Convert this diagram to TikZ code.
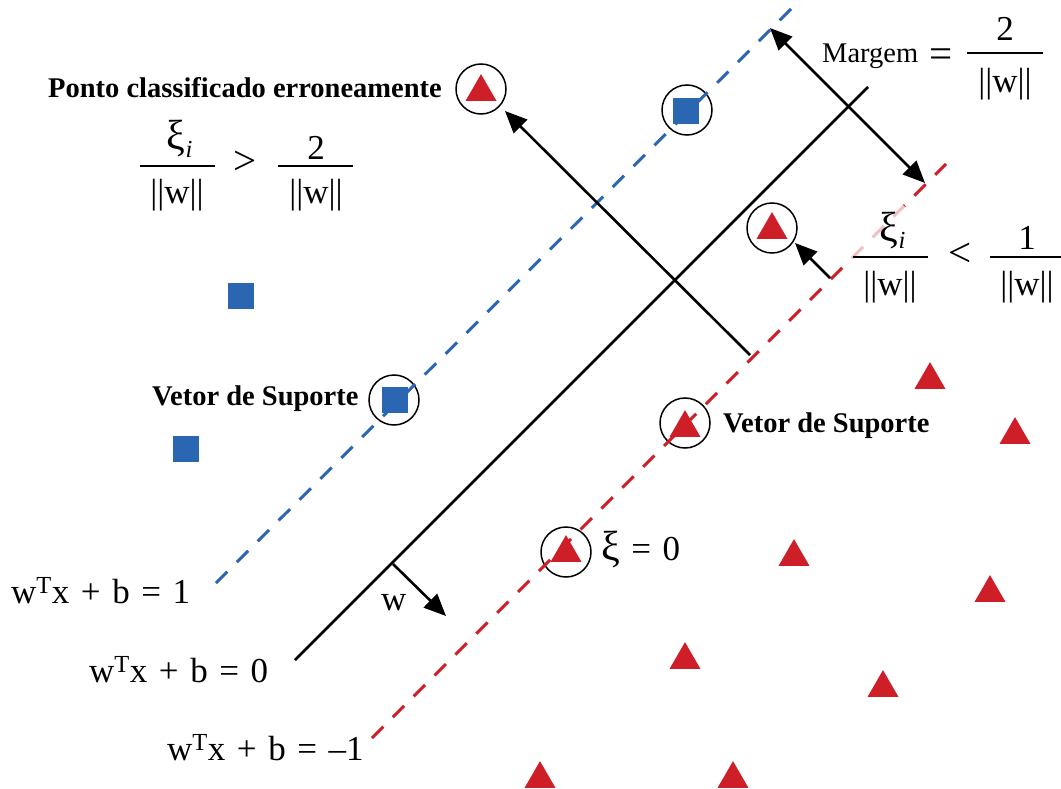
\documentclass[tikz,border=0pt]{standalone}
\usepackage{fontspec}
\setmainfont{Liberation Serif}
\usetikzlibrary{arrows.meta,shapes.geometric}
\definecolor{sblue}{HTML}{2A66B1}
\definecolor{sred}{HTML}{CE1F28}
\newcommand\eqsp{\hspace{0.33em}}
\begin{document}
\begin{tikzpicture}[x=1pt,y=-1pt,
  tri/.style={regular polygon, regular polygon sides=3, fill=sred, inner sep=0pt, minimum size=35.8pt},
  sq/.style={rectangle, fill=sblue, inner sep=0pt, minimum size=26pt},
  ring/.style={circle, draw, line width=1.5pt, inner sep=0pt, minimum size=50pt},
  hyper/.style={line width=2.6pt},
  bluedash/.style={sblue, line width=3pt, dash pattern=on 16pt off 13.5pt},
  reddash/.style={sred, line width=3pt, dash pattern=on 16pt off 13.5pt},
  arr/.style={line width=2.6pt, -{Triangle[length=22pt,width=19pt]}},
  darr/.style={line width=2.6pt, {Triangle[length=22pt,width=19pt]}-{Triangle[length=22pt,width=19pt]}},
  eq/.style={font=\fontsize{35}{40}\selectfont, inner sep=0pt},
  rel/.style={font=\fontsize{41}{46}\selectfont, inner sep=0pt},
  mid/.style={font=\fontsize{28.5}{32}\selectfont, inner sep=0pt},
  lab/.style={font=\fontsize{28.5}{32}\selectfont\bfseries, inner sep=0pt},
  fbar/.style={line width=1.5pt},
]
\useasboundingbox (0,0) rectangle (1061,789);

% ---- markers
\node[sq] (s1) at (241,296) {};
\node[sq] (s2) at (186,449) {};
\node[sq] (s3) at (395,400) {};
\node[sq] (s4) at (686,111) {};
\node[ring] (c3) at (394,400) {};
\node[ring] (c4) at (687,110) {};

\node[tri] (t1) at (481,92) {};
\node[tri] (t2) at (772,230) {};
\node[tri] (t3) at (685,428) {};
\node[tri] (t4) at (566,553) {};
\node[ring] (r1) at (481,89) {};
\node[ring] (r2) at (772,228) {};
\node[ring] (r3) at (685,423) {};
\node[ring] (r4) at (566,552) {};

\node[tri] (u1) at (930,380) {};
\node[tri] (u2) at (1015,435) {};
\node[tri] (u3) at (794,557) {};
\node[tri] (u4) at (990,593) {};
\node[tri] (u5) at (685,660) {};
\node[tri] (u6) at (883,688) {};
\node[tri] (u7) at (540,779) {};
\node[tri] (u8) at (733,779) {};

% ---- hyperplanes
\coordinate (b0) at (216,583);
\coordinate (b1) at (791,9);
\coordinate (k0) at (295,660);
\coordinate (k1) at (868,87);
\coordinate (d0) at (372,738);
\coordinate (d1) at (946,164);
\draw[bluedash] (b0) -- (b1);
\draw[reddash] (d0) -- (d1);
\coordinate (f0) at (846,264);
\coordinate (f1) at (904,206);
\draw[white, opacity=0.72, line width=6pt] (f0) -- (f1);
\draw[hyper] (k0) -- (k1);

% ---- arrows
\coordinate (m0) at (750,355);
\coordinate (m1) at (505,111);
\draw[arr] (m0) -- (m1);
\coordinate (g0) at (770,28);
\coordinate (g1) at (925,183);
\draw[darr] (g0) -- (g1);
\coordinate (h0) at (830,278);
\coordinate (h1) at (795,243);
\draw[arr] (h0) -- (h1);
\coordinate (w0) at (393,564);
\coordinate (w1) at (446,616);
\draw[arr] (w0) -- (w1);

% ---- labels
\node[eq, anchor=base west] (lw) at (381,610) {w};
\node[eq, anchor=base west] (e1) at (11,603) {w\textsuperscript{T}x\eqsp+\eqsp b\eqsp=\eqsp 1};
\node[eq, anchor=base west] (e0) at (89,682) {w\textsuperscript{T}x\eqsp+\eqsp b\eqsp=\eqsp 0};
\node[eq, anchor=base west] (em) at (167,760) {w\textsuperscript{T}x\eqsp+\eqsp b\eqsp=\eqsp –1};
\node[lab, anchor=base west] (pc) at (48,98) {Ponto classificado erroneamente};
\node[lab, anchor=base west] (vs1) at (152,405) {Vetor de Suporte};
\node[lab, anchor=base west] (vs2) at (723,432) {Vetor de Suporte};
\node[eq, anchor=base west] (xi0) at (601,560) {{\fontsize{42}{46}\selectfont ξ}\eqsp=\eqsp 0};

% fraction xi_i/||w|| > 2/||w||
\draw[fbar] (140,166) -- (215,166);
\node[eq, anchor=base] (n1) at (180,150) {{\fontsize{42}{46}\selectfont ξ}\textsubscript{\itshape i}};
\node[eq, anchor=base] (d1n) at (177,204) {||w||};
\node[rel, anchor=center] (gt) at (245,163) {>};
\draw[fbar] (278,166) -- (353,166);
\node[eq, anchor=base] (n2) at (316,160) {2};
\node[eq, anchor=base] (d2n) at (316,204) {||w||};

% Margem = 2/||w||
\node[mid, anchor=base west] (mg) at (822,63) {Margem};
\node[rel, anchor=center] (mgeq) at (941,58) {=};
\draw[fbar] (967,53) -- (1043,53);
\node[eq, anchor=base] (n3) at (1005,41) {2};
\node[eq, anchor=base] (d3n) at (1005,93) {||w||};

% xi_i/||w|| < 1/||w||
\draw[fbar] (853,257) -- (928,257);
\node[eq, anchor=base] (n4) at (893,241) {{\fontsize{42}{46}\selectfont ξ}\textsubscript{\itshape i}};
\node[eq, anchor=base] (d4n) at (890,295) {||w||};
\node[rel, anchor=center] (lt) at (960,255) {<};
\draw[fbar] (990,257) -- (1061,257);
\node[eq, anchor=base] (n5) at (1027,249) {1};
\node[eq, anchor=base] (d5n) at (1027,295) {||w||};
\end{tikzpicture}
\end{document}
